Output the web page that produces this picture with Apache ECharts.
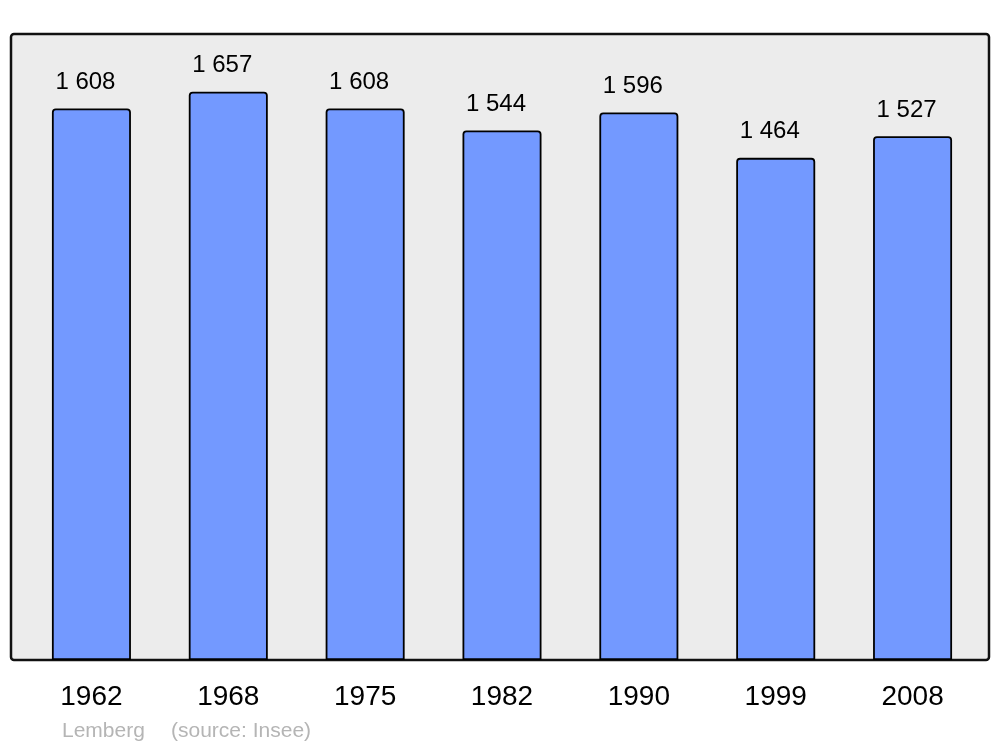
<!DOCTYPE html>
<html>
<head>
<meta charset="utf-8">
<script src="https://cdn.jsdelivr.net/npm/echarts@6/dist/echarts.min.js"></script>
<style>
  html, body { margin: 0; padding: 0; background: #fff; }
  #main { width: 1000px; height: 747px; }
</style>
</head>
<body>
<div id="main"></div>
<script>
// population by census year
const years = ['1962', '1968', '1975', '1982', '1990', '1999', '2008']
const population = [1608, 1657, 1608, 1544, 1596, 1464, 1527]
const yMax = 1825

const font = '"Liberation Sans", Arial, sans-serif'

const chart = echarts.init(document.getElementById('main'))

chart.setOption({
  animation: false,
  grid: { left: 23, right: 19, top: 34, bottom: 87 },
  graphic: [
    {
      type: 'rect',
      z: -10,
      shape: { x: 11, y: 34, width: 978, height: 626, r: 3 },
      style: { fill: '#ececec', stroke: '#111', lineWidth: 2.5 }
    },
    {
      type: 'text',
      left: 62, top: 721,
      style: { text: 'Lemberg', fill: '#b5b5b5', font: '21px ' + font }
    },
    {
      type: 'text',
      left: 171, top: 721,
      style: { text: '(source: Insee)', fill: '#b5b5b5', font: '21px ' + font }
    }
  ],
  xAxis: {
    type: 'category',
    data: years,
    axisLine: { show: false },
    axisTick: { show: false },
    axisLabel: { color: '#000', fontSize: 28, fontFamily: font, margin: 23 }
  },
  yAxis: {
    type: 'value',
    min: 0,
    max: yMax,
    show: false,
    splitLine: { show: false }
  },
  series: [{
    type: 'bar',
    data: population,
    barWidth: 79,
    z: 2,
    itemStyle: {
      color: '#7399ff',
      borderColor: '#000',
      borderWidth: 1.8,
      borderRadius: [3, 3, 0, 0]
    },
    label: {
      show: true,
      position: 'top',
      distance: 14,
      offset: [-6, 0],
      color: '#000',
      fontSize: 24,
      fontFamily: font,
      formatter: p => String(p.value).replace(/\B(?=(\d{3})+(?!\d))/g, ' ')
    }
  }]
})
</script>
</body>
</html>
